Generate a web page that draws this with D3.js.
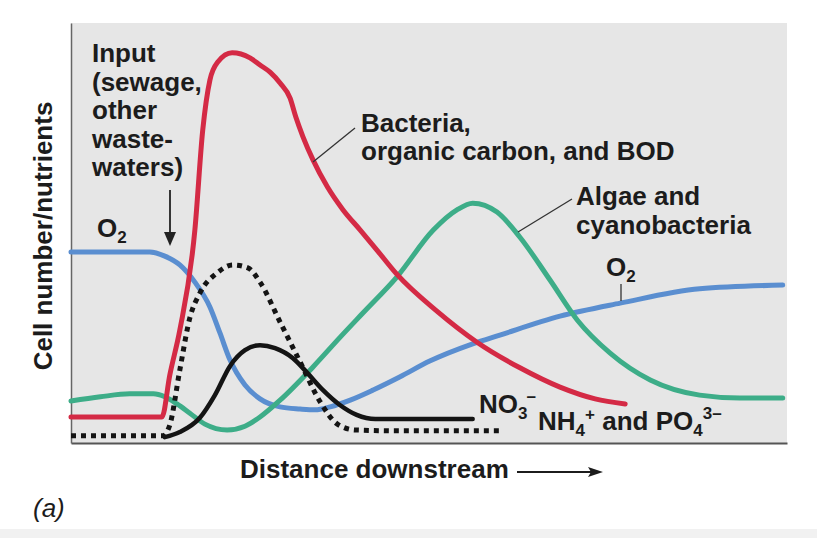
<!DOCTYPE html>
<html>
<head>
<meta charset="utf-8">
<script src="https://cdn.jsdelivr.net/npm/d3@7"></script>
<style>
  html, body { margin: 0; padding: 0; background: #fff; }
  svg { display: block; }
  text { font-family: "Liberation Sans", Arial, Helvetica, sans-serif; fill: #1c1c1c; }
</style>
</head>
<body>
<svg id="chart" width="817" height="538"></svg>
<script>
// Distance downstream (0-100, arbitrary units) and level (0-100, arbitrary units)
const bacteriaX = [0, 12.7, 13.8, 15.2, 17.3, 18.4, 19.4, 20.5, 22.5, 25.0, 26.4, 27.8, 29.2, 30.6, 31.4, 32.4, 33.8, 35.8, 38.0, 40.4, 42.7, 45.5, 51.1, 56.7, 62.7, 68.3, 73.2, 77.4];
const bacteriaY = [6.2, 6.2, 16.2, 26.9, 50.7, 74.5, 86.4, 90.7, 92.9, 91.7, 90.0, 88.3, 85.7, 82.1, 77.6, 72.9, 67.4, 61.0, 55.5, 50.7, 46.0, 40.2, 31.4, 24.0, 17.9, 13.3, 10.5, 9.3];

const oxygenX = [0, 11.0, 13.1, 15.2, 17.3, 19.4, 20.8, 22.2, 24.3, 26.4, 29.2, 32.0, 34.1, 36.2, 39.0, 42.2, 45.9, 50.1, 56.1, 59.9, 68.3, 76.7, 87.8, 99.4];
const oxygenY = [45.5, 45.5, 44.5, 42.4, 38.3, 32.4, 26.2, 19.8, 13.8, 10.5, 8.6, 8.1, 7.9, 8.6, 10.2, 12.6, 15.7, 19.5, 23.6, 25.7, 30.2, 33.3, 36.7, 37.6];

const algaeX = [0, 4.1, 8.2, 11.5, 13.1, 14.8, 16.6, 18.7, 21.8, 24.3, 26.4, 29.2, 33.8, 37.6, 40.8, 45.5, 50.6, 53.9, 56.1, 59.5, 62.7, 66.9, 70.7, 75.3, 80.9, 87.8, 93.4, 99.4];
const algaeY = [10.0, 11.0, 11.7, 11.7, 11.0, 9.3, 7.1, 4.5, 3.1, 4.0, 6.2, 10.2, 18.1, 25.2, 31.0, 39.5, 50.7, 55.5, 57.1, 55.0, 49.0, 38.8, 29.3, 21.4, 15.0, 11.4, 10.7, 10.7];

const nitrateX = [13.1, 15.2, 18.0, 20.1, 22.2, 24.3, 26.4, 28.5, 31.0, 33.0, 35.2, 37.6, 39.9, 42.5, 56.1];
const nitrateY = [1.4, 2.6, 6.0, 11.4, 18.3, 22.1, 23.3, 22.6, 20.2, 16.7, 12.6, 9.0, 6.7, 5.7, 5.7];

const ammoniaX = [0, 12.8, 13.8, 15.2, 16.6, 18.0, 20.4, 22.6, 24.7, 26.4, 29.2, 32.0, 34.8, 37.2, 39.7, 45.9, 59.9];
const ammoniaY = [1.7, 1.7, 4.3, 17.4, 29.8, 35.7, 40.5, 42.4, 41.7, 38.3, 28.8, 19.3, 9.8, 4.5, 3.1, 2.9, 2.9];

const colors = { bacteria: "#d42a45", oxygen: "#5a8ed0", algae: "#3dad88", black: "#141414" };

const svg = d3.select("#chart");
const plot = { left: 71, right: 787, top: 23, bottom: 443 };

const x = d3.scaleLinear().domain([0, 100]).range([plot.left, plot.right]);
const y = d3.scaleLinear().domain([0, 100]).range([plot.bottom, plot.top]);

// page bottom strip
svg.append("rect").attr("x", 0).attr("y", 529).attr("width", 817).attr("height", 9).attr("fill", "#f1f1f1");

// plot background
svg.append("rect")
  .attr("x", plot.left).attr("y", plot.top)
  .attr("width", plot.right - plot.left).attr("height", plot.bottom - plot.top)
  .attr("fill", "#e6e6e6");

// axes (no ticks)
const xAxis = d3.axisBottom(x).tickValues([]).tickSizeOuter(0);
const yAxis = d3.axisLeft(y).tickValues([]).tickSizeOuter(0);
svg.append("g").attr("transform", `translate(0,${plot.bottom})`).call(xAxis)
  .select(".domain").attr("stroke", "#555").attr("stroke-width", 2);
svg.append("g").attr("transform", `translate(${plot.left},0)`).call(yAxis)
  .select(".domain").attr("stroke", "#666").attr("stroke-width", 1.5);

const line = d3.line().x(d => x(d[0])).y(d => y(d[1])).curve(d3.curveMonotoneX);
const zip = (a, b) => a.map((v, i) => [v, b[i]]);

function draw(xs, ys, color, width, dash) {
  const p = svg.append("path").datum(zip(xs, ys))
    .attr("d", line).attr("fill", "none")
    .attr("stroke", color).attr("stroke-width", width)
    .attr("stroke-linejoin", "round");
  if (dash) p.attr("stroke-dasharray", dash).attr("stroke-linecap", "butt");
  else p.attr("stroke-linecap", "round");
}

draw(oxygenX, oxygenY, colors.oxygen, 5);
draw(algaeX, algaeY, colors.algae, 5);
draw(bacteriaX, bacteriaY, colors.bacteria, 5);
draw(ammoniaX, ammoniaY, colors.black, 5, "5,5");
draw(nitrateX, nitrateY, colors.black, 4.5);

// ---- labels ----
const F = 26, S = 17;
function label(px, py, parts, opts = {}) {
  const t = svg.append("text").attr("x", px).attr("y", py)
    .attr("font-size", opts.size || F).attr("font-weight", opts.weight || "bold");
  if (opts.style) t.attr("font-style", opts.style);
  parts.forEach(p => {
    const ts = t.append("tspan").text(p.t);
    if (p.sz) ts.attr("font-size", p.sz);
    if (p.dy) ts.attr("dy", p.dy);
    if (p.dx) ts.attr("dx", p.dx);
  });
  return t;
}

// Input annotation
const inputLines = ["Input", "(sewage,", "other", "waste-", "waters)"];
inputLines.forEach((s, i) => label(92, 62 + i * 28.6, [{ t: s }]));

// input arrow
svg.append("line").attr("x1", 170).attr("y1", 190).attr("x2", 170).attr("y2", 236)
  .attr("stroke", "#222").attr("stroke-width", 1.8);
svg.append("path").attr("d", "M164,232 L176,232 L170,246 Z").attr("fill", "#222");

// O2 left
label(97, 237, [{ t: "O" }, { t: "2", sz: S, dy: 6 }]);

// Bacteria label
label(361, 132, [{ t: "Bacteria," }]);
label(361, 160, [{ t: "organic carbon, and BOD" }]);
svg.append("line").attr("x1", 355).attr("y1", 128).attr("x2", 313).attr("y2", 162)
  .attr("stroke", "#333").attr("stroke-width", 1.3);

// Algae label
label(576, 205, [{ t: "Algae and" }]);
label(576, 234, [{ t: "cyanobacteria" }]);
svg.append("line").attr("x1", 572).attr("y1", 199).attr("x2", 518).attr("y2", 232)
  .attr("stroke", "#333").attr("stroke-width", 1.3);

// O2 right
label(606, 276, [{ t: "O" }, { t: "2", sz: S, dy: 6 }]);
svg.append("line").attr("x1", 621).attr("y1", 284).attr("x2", 621).attr("y2", 301)
  .attr("stroke", "#333").attr("stroke-width", 1.3);

// NO3-
label(479, 413, [{ t: "NO" }, { t: "3", sz: S, dy: 6 }, { t: "\u2013", sz: S, dy: -17, dx: -1 }]);
// NH4+ and PO4 3-
label(538, 430, [
  { t: "NH" }, { t: "4", sz: S, dy: 6 }, { t: "+", sz: S, dy: -16 },
  { t: " and PO", dy: 10 }, { t: "4", sz: S, dy: 6 }, { t: "3\u2013", sz: S, dy: -17 }
]);

// x-axis title with arrow
label(240, 478, [{ t: "Distance downstream" }]);
svg.append("line").attr("x1", 517).attr("y1", 472).attr("x2", 594).attr("y2", 472)
  .attr("stroke", "#1c1c1c").attr("stroke-width", 2);
svg.append("path").attr("d", "M588,467 L603,472 L588,477 L591,472 Z").attr("fill", "#1c1c1c");

// y-axis title
svg.append("text")
  .attr("transform", "translate(52,236) rotate(-90)")
  .attr("text-anchor", "middle")
  .attr("font-size", 26).attr("font-weight", "bold")
  .text("Cell number/nutrients");

// panel label
label(33, 517, [{ t: "(a)" }], { weight: "normal", style: "italic", size: 26 });
</script>
</body>
</html>
